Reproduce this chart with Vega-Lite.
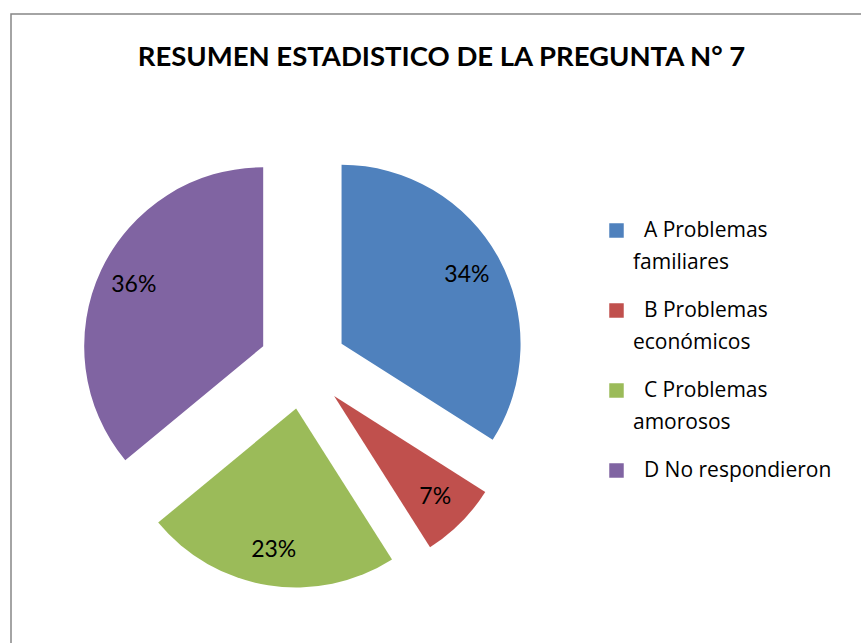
{
  "$schema": "https://vega.github.io/schema/vega-lite/v6.json",
  "width": 861,
  "height": 700,
  "autosize": {"type": "none"},
  "padding": {"left": 11, "top": 14, "right": 0, "bottom": 0},
  "background": "white",
  "view": {"stroke": "#868686", "strokeWidth": 1.5, "fill": "white"},
  "config": {
    "font": "Lato",
    "style": {"guide-label": {"lineHeight": 32}}
  },
  "title": {
    "text": "RESUMEN ESTADISTICO DE LA PREGUNTA N° 7",
    "font": "Lato",
    "fontSize": 27.5,
    "fontWeight": "bold",
    "color": "black",
    "anchor": "middle",
    "baseline": "alphabetic",
    "offset": 0,
    "dy": 79
  },
  "data": {
    "values": [
      {"categoria": "A Problemas familiares", "porcentaje": 0.34},
      {"categoria": "B Problemas económicos", "porcentaje": 0.07},
      {"categoria": "C Problemas amorosos", "porcentaje": 0.23},
      {"categoria": "D No respondieron", "porcentaje": 0.36}
    ]
  },
  "encoding": {
    "theta": {"field": "porcentaje", "type": "quantitative", "stack": true},
    "order": {"field": "categoria", "type": "ordinal", "sort": "ascending"},
    "color": {
      "field": "categoria",
      "type": "nominal",
      "sort": null,
      "scale": {
        "domain": ["A Problemas familiares", "B Problemas económicos", "C Problemas amorosos", "D No respondieron"],
        "range": ["#4F81BD", "#C0504D", "#9BBB59", "#8064A2"]
      },
      "legend": {
        "orient": "none",
        "legendX": 595,
        "legendY": 206,
        "title": null,
        "padding": 0,
        "symbolType": "square",
        "symbolSize": 210,
        "symbolStrokeWidth": 0,
        "labelFont": "Open Sans",
        "labelFontSize": 21,
        "labelColor": "black",
        "labelOffset": 6,
        "labelLimit": 300,
        "rowPadding": 26,
        "labelExpr": "datum.label == 'D No respondieron' ? '\u200b\u00a0\u00a0' + datum.label : ['\u200b\u00a0\u00a0' + substring(datum.label, 0, 11), substring(datum.label, 12)]",
        "encode": {
          "labels": {"update": {"lineHeight": {"value": 32}}}
        }
      }
    }
  },
  "layer": [
    {
      "mark": {
        "type": "arc",
        "x": 292,
        "y": 351,
        "radius": 179,
        "stroke": null,
        "xOffset": {"expr": "44*sin((scale('theta', datum.porcentaje_start) + scale('theta', datum.porcentaje_end))/2)"},
        "yOffset": {"expr": "-44*cos((scale('theta', datum.porcentaje_start) + scale('theta', datum.porcentaje_end))/2)"}
      }
    },
    {
      "mark": {
        "type": "text",
        "x": 292,
        "y": 351,
        "radius": 143,
        "font": "Lato",
        "fontSize": 23,
        "xOffset": {"expr": "44*sin((scale('theta', datum.porcentaje_start) + scale('theta', datum.porcentaje_end))/2)"},
        "yOffset": {"expr": "-44*cos((scale('theta', datum.porcentaje_start) + scale('theta', datum.porcentaje_end))/2)"}
      },
      "encoding": {
        "text": {"field": "porcentaje", "type": "quantitative", "format": ".0%"},
        "detail": {"field": "categoria", "type": "nominal"},
        "color": {"value": "black"}
      }
    }
  ]
}
